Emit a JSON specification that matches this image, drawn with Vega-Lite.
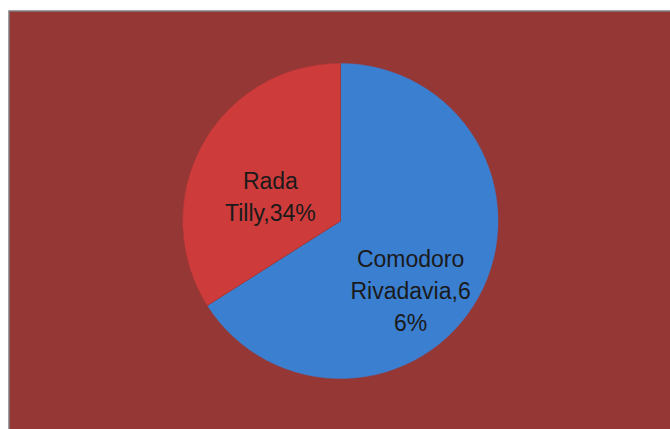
{
  "$schema": "https://vega.github.io/schema/vega-lite/v6.json",
  "width": 670,
  "height": 429,
  "autosize": {"type": "fit", "contains": "padding"},
  "padding": {"left": 8, "top": 10, "right": -3, "bottom": -3},
  "background": "#ffffff",
  "data": {
    "values": [
      {"ciudad": "Comodoro Rivadavia", "porcentaje": 66, "etiqueta": "Comodoro|Rivadavia,6|6%"},
      {"ciudad": "Rada Tilly", "porcentaje": 34, "etiqueta": "Rada|Tilly,34%"}
    ]
  },
  "layer": [
    {
      "data": {"values": [{"fondo": 1}]},
      "mark": {"type": "rect", "fill": "#953735", "stroke": "#7f7f7f", "strokeWidth": 1.5},
      "encoding": {}
    },
    {
      "mark": {"type": "arc", "radius": 158, "stroke": "#953735", "strokeWidth": 0.5},
      "encoding": {
        "theta": {"field": "porcentaje", "type": "quantitative", "stack": true},
        "color": {
          "field": "ciudad",
          "type": "nominal",
          "scale": {"domain": ["Comodoro Rivadavia", "Rada Tilly"], "range": ["#3b7fd0", "#cd3b3b"]},
          "legend": null
        }
      }
    },
    {
      "mark": {"type": "text", "radius": 80, "font": "Liberation Sans", "fontSize": 23, "lineBreak": "|", "lineHeight": 32, "fill": "#1a1a1a", "align": "center", "baseline": "middle"},
      "encoding": {
        "theta": {"field": "porcentaje", "type": "quantitative", "stack": true},
        "text": {"field": "etiqueta", "type": "nominal"}
      }
    }
  ]
}
